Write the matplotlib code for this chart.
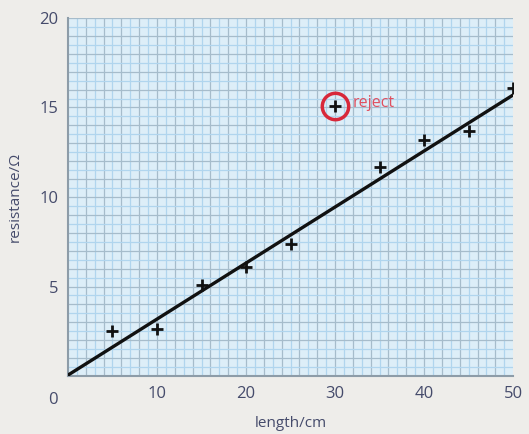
import numpy as np
import matplotlib.pyplot as plt

length = [5, 10, 15, 20, 25, 35, 40, 45, 50]
resistance = [2.5, 2.6, 5.1, 6.1, 7.4, 11.7, 13.2, 13.7, 16.1]
reject_x = [30]
reject_y = [15.1]
fit_x = [0, 50]
fit_y = [0.05, 15.7]
xticks = [10, 20, 30, 40, 50]
yticks = [5, 10, 15, 20]

plt.rcParams['font.family'] = ['Open Sans', 'DejaVu Sans']
txt = '#454b6b'

fig = plt.figure(figsize=(5.29, 4.34), dpi=100, facecolor='#eeedea')
ax = fig.add_axes([0.1285, 0.1336, 0.8415, 0.825])
ax.set_facecolor('#ddeef8')

# graph paper grid
for i, x in enumerate(np.arange(1, 50, 1)):
    ax.axvline(x, color='#a6bccb' if i % 2 else '#b0d5ee', lw=0.9, zorder=1)
for i, y in enumerate(np.arange(0.5, 20.01, 0.5)):
    ax.axhline(y, color='#a6bccb' if i % 2 else '#b0d5ee', lw=0.9, zorder=1)

ax.plot(fit_x, fit_y, color='#111111', lw=2.4, zorder=3)
ax.plot(length, resistance, '+', color='#111111', ms=8.5, mew=2, zorder=4)
ax.plot(reject_x, reject_y, '+', color='#111111', ms=8.5, mew=2, zorder=4)
ax.plot(reject_x, reject_y, 'o', mfc='none', mec='#d8283a', ms=19, mew=2.5, zorder=5)
ax.text(32.0, 15.25, 'reject', color='#e0505f', fontsize=11.5, va='center', zorder=5)

ax.set_xlim(0, 50)
ax.set_ylim(0, 20)
ax.set_xticks(xticks)
ax.set_yticks(yticks)
ax.tick_params(length=0, labelsize=12, labelcolor=txt, pad=7)
for s in ['top', 'right']:
    ax.spines[s].set_visible(False)
for s in ['left', 'bottom']:
    ax.spines[s].set_color('#8d9ca8')
    ax.spines[s].set_linewidth(1.5)
ax.text(-0.033, -0.045, '0', transform=ax.transAxes, ha='center', va='top',
        fontsize=12, color=txt)

ax.set_xlabel('length/cm', fontsize=11, color=txt, labelpad=10)
ax.set_ylabel('resistance/Ω', fontsize=11, color=txt, labelpad=12)

fig.savefig('out.png', dpi=100, facecolor=fig.get_facecolor())
